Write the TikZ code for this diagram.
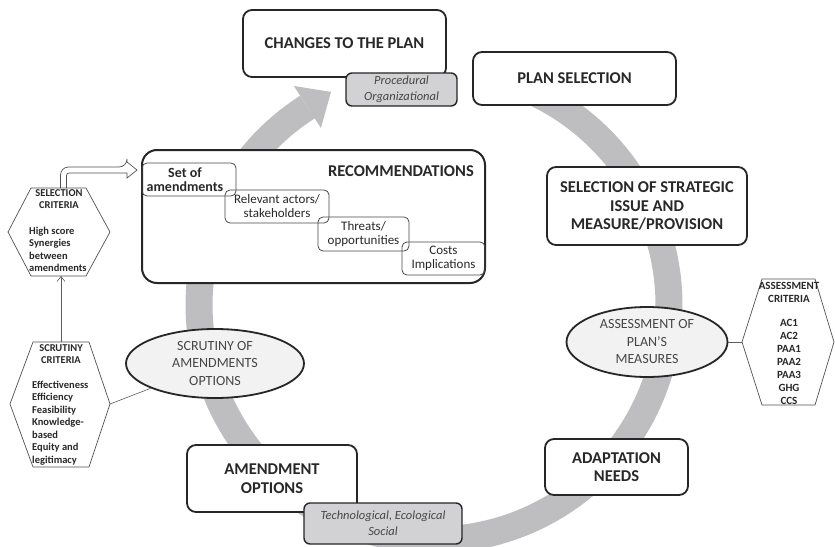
\documentclass[tikz,border=0pt]{standalone}
\usepackage{fontspec}
\setmainfont{Carlito}
\usetikzlibrary{arrows.meta,shapes.geometric,calc}
\definecolor{ringgray}{RGB}{190,190,193}
\definecolor{boxgray}{RGB}{210,210,212}
\definecolor{ellfill}{RGB}{242,242,242}
\definecolor{ink}{RGB}{38,38,38}
\definecolor{txt}{RGB}{40,40,40}
\definecolor{ellt}{RGB}{70,70,70}
\begin{document}
\begin{tikzpicture}[x=1pt,y=-1pt,
 mainbox/.style={draw=ink, line width=1.8pt, rounded corners=9pt, fill=white, align=center, text=txt, inner sep=0pt, font=\fontsize{16.5}{18.5}\selectfont\bfseries},
 graybox/.style={draw=ink, line width=1.4pt, rounded corners=6pt, fill=boxgray, align=center, text=ellt, inner sep=0pt, font=\fontsize{12.5}{16}\selectfont\itshape},
 ellbox/.style={ellipse, draw=ink, line width=1.8pt, fill=ellfill, align=center, text=ellt, inner sep=0pt, font=\fontsize{14}{17.5}\selectfont},
 recbox/.style={draw=ink, line width=2pt, rounded corners=15pt, fill=white, inner sep=0pt},
 subbox/.style={draw=ink!85, line width=0.8pt, rounded corners=5pt, align=center, inner sep=0pt, text=txt, font=\fontsize{13}{14}\selectfont},
 hexline/.style={draw=ink!80, line width=0.7pt},
 hextitle/.style={align=center, inner sep=0pt, text=txt, font=\fontsize{10.5}{12.5}\selectfont\bfseries},
 hexlist/.style={align=left, inner sep=0pt, text=txt, font=\fontsize{10.5}{12.5}\selectfont\bfseries, anchor=west},
 thinlink/.style={draw=ink!75, line width=0.6pt},
 ringband/.style={draw=ringgray, line width=27pt, line join=round}
]
\useasboundingbox (0,0) rectangle (835,546);
\fill[white] (0,0) rectangle (835,546);

% cycle band with arrow head
\draw[ringband] plot[domain=0:303.4, samples=150] ({434+235*cos(66-\x)},{305-235*sin(66-\x)});
\fill[ringgray] (293.9,86) -- (331,91.9) -- (320.9,128) -- cycle;

% recommendations
\node[recbox, minimum width=343pt, minimum height=133pt] (rec) at (313.5,216.5) {};
\node[anchor=east, inner sep=0pt, text=txt, font=\fontsize{16.5}{18.5}\selectfont\bfseries] (rectitle) at (474,171) {RECOMMENDATIONS};
\node[subbox, minimum width=94pt, minimum height=33pt, font=\fontsize{14}{14.5}\selectfont\bfseries] (setof) at (189,179.5) {};
\node[inner sep=0pt, align=center, text=txt, font=\fontsize{14}{14.5}\selectfont\bfseries] (setoft) at (185,179.5) {Set of\\amendments};
\node[subbox, minimum width=104pt, minimum height=33pt] (relev) at (277,206.5) {Relevant actors/\\stakeholders};
\node[subbox, minimum width=91pt, minimum height=34pt] (threat) at (363.5,234) {Threats/\\opportunities};
\node[subbox, minimum width=83pt, minimum height=33pt] (costs) at (443.5,258.5) {Costs\\Implications};

% main boxes
\node[mainbox, minimum width=203pt, minimum height=67pt] (changes) at (344.5,43.5) {CHANGES TO THE PLAN};
\node[graybox, minimum width=111pt, minimum height=33pt] (proc) at (401.5,89.5) {Procedural\\Organizational};
\node[mainbox, minimum width=203pt, minimum height=53pt] (plansel) at (574.5,78.5) {PLAN SELECTION};
\node[mainbox, minimum width=200pt, minimum height=78pt] (strat) at (647,206) {SELECTION OF STRATEGIC\\ISSUE AND\\MEASURE/PROVISION};
\node[ellbox, minimum width=161pt, minimum height=70pt] (assess) at (647,342) {ASSESSMENT OF\\PLAN’S\\MEASURES};
\node[mainbox, minimum width=143pt, minimum height=56pt] (adapt) at (616.5,467) {ADAPTATION\\NEEDS};
\node[mainbox, minimum width=170pt, minimum height=67pt] (amend) at (272,478.5) {AMENDMENT\\OPTIONS};
\node[graybox, minimum width=158pt, minimum height=41pt] (tech) at (383,523.5) {Technological, Ecological\\Social};
\node[ellbox, minimum width=178pt, minimum height=69pt] (scrut) at (215,363.5) {SCRUTINY OF\\AMENDMENTS\\OPTIONS};

% assessment criteria hexagon
\draw[hexline] (742,342) coordinate (aL) -- (762,279) -- (815,279) -- (834,342) -- (815,405) -- (762,405) -- cycle;
\node[hextitle, font=\fontsize{11}{13}\selectfont\bfseries] (acrit) at (789,343) {ASSESSMENT\\CRITERIA\\[11pt]AC1\\AC2\\PAA1\\PAA2\\PAA3\\GHG\\CCS};
\draw[thinlink] (assess.east) -- (aL);

% scrutiny criteria hexagon
\draw[hexline] (10,404) -- (33,342) coordinate[pos=1] (sTL) -- (89,342) -- (110,404) coordinate (sR) -- (89,467) -- (33,467) -- cycle;
\coordinate (scrTop) at (61,342);
\node[hextitle] (sctitle) at (61,354.25) {SCRUTINY\\CRITERIA};
\node[hexlist] (sclist) at (32,423) {Effectiveness\\Efficiency\\Feasibility\\Knowledge-\\based\\Equity and\\legitimacy};
\draw[thinlink] (scrut) -- (sR);

% selection criteria hexagon
\draw[hexline] (8,232) -- (31,188) -- (86,188) -- (110,232) -- (86,276) -- (31,276) -- cycle;
\coordinate (selBot) at (61,276);
\node[hextitle] (seltitle) at (59,199.25) {SELECTION\\CRITERIA};
\node[hexlist] (sellist) at (29,249.25) {High score\\Synergies\\between\\amendments};
\draw[thinlink, -{Straight Barb[length=5pt,width=8pt]}] (scrTop) -- (selBot);

% hollow arrow to recommendations
\draw[line width=0.7pt, draw=ink!80] (60.5,188) [rounded corners=8pt] -- (60.5,167) -- (127,167) [sharp corners] -- (127,162) -- (137,170) -- (127,178) -- (127,173) [rounded corners=2.5pt] -- (66.5,173) -- (66.5,188);
\end{tikzpicture}
\end{document}
